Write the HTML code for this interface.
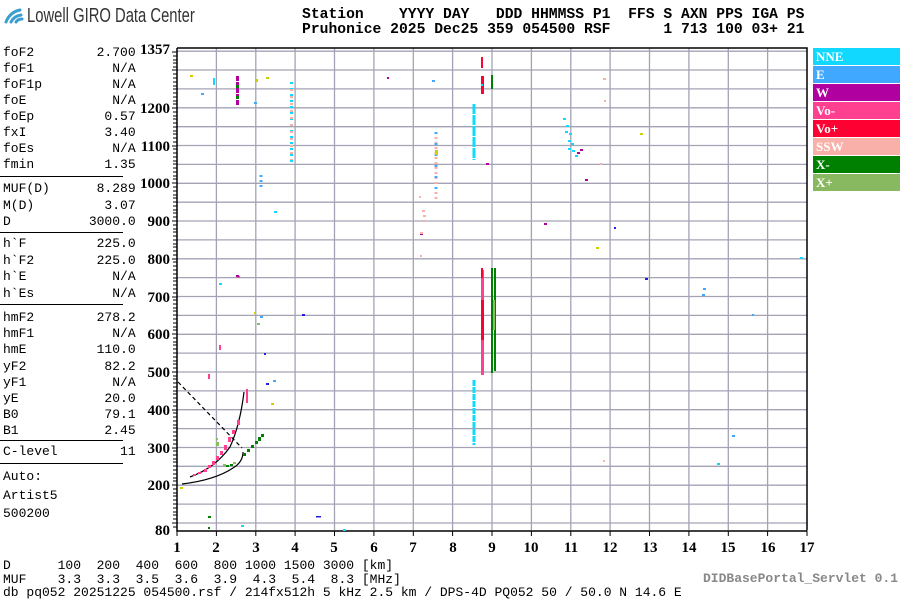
<!DOCTYPE html>
<html><head><meta charset="utf-8"><style>
body{margin:0;background:#fff;width:900px;height:600px;overflow:hidden;position:relative;font-family:"Liberation Mono",monospace}
.t{position:absolute;font-size:13px;white-space:pre;color:#000;line-height:13px}
.lg{position:absolute;left:813px;width:87px;height:17px;color:#fff;font:bold 13px "Liberation Serif",serif;line-height:17px;padding-left:3px;box-sizing:border-box}
</style></head><body>
<svg width="900" height="600" style="position:absolute;left:0;top:0">
<g stroke="#3a9fd0" stroke-width="3" fill="none" stroke-linecap="round">
<path d="M6 22 Q10 12 20 10"/><path d="M11 22 Q14 16 21 15"/><path d="M16 22 Q18 19 22 19"/></g>
<g stroke="#a3a3b5" stroke-width="1.3">
<path d="M177 523H807M177 504.1H807M177 485.2H807M177 466.3H807M177 447.5H807M177 428.6H807M177 409.7H807M177 390.9H807M177 372H807M177 353.1H807M177 334.3H807M177 315.4H807M177 296.5H807M177 277.6H807M177 258.8H807M177 239.9H807M177 221H807M177 202.2H807M177 183.3H807M177 164.4H807M177 145.5H807M177 126.7H807M177 107.8H807M177 88.9H807M177 70H807M177 51.2H807"/>
<path d="M216.4 48V530M255.8 48V530M295.1 48V530M334.5 48V530M373.9 48V530M413.3 48V530M452.6 48V530M492 48V530M531.4 48V530M570.8 48V530M610.1 48V530M649.5 48V530M688.9 48V530M728.3 48V530M767.6 48V530"/>
</g>
<g stroke="#000" stroke-width="1.5" fill="none">
<path d="M177 48H807V530.5M177 48V531H807"/>
</g>
<g stroke="#000" stroke-width="1">
<path d="M172 52H177M173 56H177M173 60H177M173 63H177M173 67H177M172 70H177M173 74H177M173 78H177M173 82H177M173 86H177M173 89H177M173 93H177M173 97H177M173 101H177M173 104H177M172 108H177M173 112H177M173 116H177M173 119H177M173 123H177M173 127H177M173 131H177M173 134H177M173 138H177M173 142H177M172 146H177M173 149H177M173 153H177M173 157H177M173 161H177M173 164H177M173 168H177M173 172H177M173 176H177M173 179H177M172 183H177M173 187H177M173 191H177M173 195H177M173 198H177M173 202H177M173 206H177M173 210H177M173 213H177M173 217H177M172 221H177M173 225H177M173 229H177M173 232H177M173 236H177M173 240H177M173 244H177M173 247H177M173 251H177M173 255H177M172 259H177M173 262H177M173 266H177M173 270H177M173 274H177M173 278H177M173 281H177M173 285H177M173 289H177M173 293H177M172 297H177M173 300H177M173 304H177M173 308H177M173 311H177M173 315H177M173 319H177M173 323H177M173 327H177M173 330H177M172 334H177M173 338H177M173 342H177M173 345H177M173 349H177M173 353H177M173 357H177M173 361H177M173 364H177M173 368H177M172 372H177M173 376H177M173 379H177M173 383H177M173 387H177M173 391H177M173 394H177M173 398H177M173 402H177M173 406H177M172 410H177M173 413H177M173 417H177M173 421H177M173 425H177M173 428H177M173 432H177M173 436H177M173 440H177M173 444H177M172 448H177M173 451H177M173 455H177M173 459H177M173 462H177M173 466H177M173 470H177M173 474H177M173 478H177M173 481H177M172 485H177M173 489H177M173 493H177M173 496H177M173 500H177M173 504H177M173 508H177M173 512H177M173 515H177M173 519H177M172 523H177M173 527H177"/>
<path d="M177 531V536M216.4 531V536M255.8 531V536M295.1 531V536M334.5 531V536M373.9 531V536M413.3 531V536M452.6 531V536M492 531V536M531.4 531V536M570.8 531V536M610.1 531V536M649.5 531V536M688.9 531V536M728.3 531V536M767.6 531V536M807 531V536"/>
</g>
<g font-family="Liberation Serif,serif" font-weight="bold" font-size="15" text-anchor="end">
<text x="170" y="54">1357</text><text x="170" y="113">1200</text><text x="170" y="151">1100</text><text x="170" y="188">1000</text><text x="170" y="226">900</text><text x="170" y="264">800</text><text x="170" y="302">700</text><text x="170" y="339">600</text><text x="170" y="377">500</text><text x="170" y="415">400</text><text x="170" y="453">300</text><text x="170" y="490">200</text><text x="170" y="535">80</text>
</g>
<g font-family="Liberation Serif,serif" font-weight="bold" font-size="15" text-anchor="middle">
<text x="177" y="552">1</text><text x="216" y="552">2</text><text x="256" y="552">3</text><text x="295" y="552">4</text><text x="334" y="552">5</text><text x="374" y="552">6</text><text x="413" y="552">7</text><text x="453" y="552">8</text><text x="492" y="552">9</text><text x="531" y="552">10</text><text x="571" y="552">11</text><text x="610" y="552">12</text><text x="650" y="552">13</text><text x="689" y="552">14</text><text x="728" y="552">15</text><text x="768" y="552">16</text><text x="807" y="552">17</text>
</g>
<g fill="none" stroke="#000" stroke-width="1.2">
<path d="M182 484 Q215 480 233 468 Q243 462 243 452"/>
<path d="M190 477 Q215 468 230 447 Q240 425 244 392"/>
<path d="M178 382 L242 448" stroke-dasharray="4,3"/>
</g>
<!-- dotted vertical traces -->
<g fill="none" stroke-width="3">
<path d="M291.5 82V165" stroke="#10d8ff" stroke-dasharray="2,4"/>
<path d="M291.5 85V160" stroke="#f8b0a8" stroke-dasharray="2,5" stroke-dashoffset="3"/>
<path d="M436 132V200" stroke="#f8b0a8" stroke-dasharray="2,3"/>
<path d="M436 132V190" stroke="#40a8ff" stroke-dasharray="2,9"/>
<path d="M261 175V190" stroke="#40a8ff" stroke-dasharray="2,3"/>
<path d="M474 380V445" stroke="#10d8ff" stroke-dasharray="6,1"/>
<path d="M474 104V160" stroke="#10d8ff" stroke-dasharray="10,1"/>
<path d="M237.5 76V105" stroke="#b000a0" stroke-dasharray="5,1"/>
</g>
<g fill="#ff4090">
<rect x="193" y="474" width="3" height="2"/><rect x="198" y="472" width="3" height="2"/><rect x="204" y="469" width="3" height="3"/><rect x="208" y="465" width="3" height="3"/><rect x="212" y="461" width="3" height="4"/><rect x="216" y="456" width="3" height="4"/><rect x="220" y="451" width="3" height="4"/><rect x="224" y="445" width="3" height="5"/><rect x="228" y="437" width="3" height="5"/><rect x="232" y="430" width="3" height="4"/><rect x="237" y="420" width="3" height="5"/><rect x="246" y="389" width="2" height="14"/>
<rect x="208" y="374" width="2" height="5"/><rect x="219" y="345" width="2" height="5"/><rect x="481" y="270" width="3" height="105"/><rect x="237" y="276" width="3" height="2"/>
</g>
<g fill="#ff0033"><rect x="481" y="57" width="2" height="11"/><rect x="481" y="76" width="3" height="18"/><rect x="481" y="300" width="3" height="40"/><rect x="481" y="268" width="2" height="10"/></g>
<g fill="#008000"><rect x="243" y="453" width="3" height="3"/><rect x="247" y="449" width="3" height="3"/><rect x="251" y="445" width="3" height="3"/><rect x="255" y="441" width="3" height="3"/><rect x="258" y="437" width="3" height="4"/><rect x="261" y="434" width="3" height="3"/><rect x="226" y="465" width="3" height="2"/><rect x="230" y="464" width="3" height="2"/><rect x="208" y="516" width="3" height="2"/><rect x="208" y="527" width="2" height="2"/><rect x="491" y="75" width="2" height="14"/><rect x="491" y="268" width="2" height="105"/><rect x="494" y="268" width="2" height="103"/><rect x="236" y="85" width="3" height="3"/><rect x="236" y="96" width="3" height="3"/></g>
<g fill="#88c060"><rect x="216" y="442" width="3" height="4"/><rect x="216" y="438" width="2" height="2"/><rect x="233" y="462" width="3" height="2"/><rect x="223" y="464" width="3" height="2"/><rect x="257" y="323" width="3" height="2"/><rect x="493" y="300" width="2" height="30"/></g>
<g fill="#b000a0"><rect x="236" y="275" width="3" height="2"/><rect x="420" y="233" width="3" height="2"/><rect x="486" y="163" width="3" height="2"/><rect x="544" y="223" width="3" height="2"/><rect x="580" y="149" width="3" height="2"/><rect x="577" y="152" width="3" height="2"/><rect x="585" y="179" width="3" height="2"/><rect x="387" y="77" width="2" height="2"/></g>
<g fill="#10d8ff"><rect x="213" y="78" width="2" height="7"/><rect x="563" y="118" width="3" height="2"/><rect x="566" y="125" width="3" height="2"/><rect x="565" y="131" width="3" height="2"/><rect x="569" y="133" width="3" height="2"/><rect x="568" y="140" width="3" height="2"/><rect x="571" y="143" width="3" height="2"/><rect x="568" y="148" width="3" height="2"/><rect x="572" y="150" width="3" height="2"/><rect x="575" y="155" width="3" height="2"/><rect x="241" y="525" width="3" height="2"/><rect x="219" y="283" width="3" height="2"/><rect x="274" y="211" width="3" height="2"/><rect x="800" y="257" width="3" height="2"/><rect x="717" y="463" width="3" height="2"/><rect x="343" y="529" width="3" height="2"/><rect x="481" y="84" width="2" height="2"/></g>
<g fill="#40a8ff"><rect x="201" y="93" width="3" height="2"/><rect x="254" y="102" width="3" height="2"/><rect x="432" y="80" width="3" height="2"/><rect x="260" y="316" width="3" height="2"/><rect x="703" y="288" width="3" height="2"/><rect x="702" y="294" width="3" height="2"/><rect x="752" y="314" width="2" height="2"/><rect x="732" y="435" width="3" height="2"/><rect x="273" y="380" width="3" height="2"/></g>
<g fill="#f8b0a8"><rect x="419" y="196" width="2" height="2"/><rect x="422" y="210" width="3" height="2"/><rect x="423" y="215" width="3" height="2"/><rect x="420" y="232" width="3" height="2"/><rect x="423" y="220" width="2" height="2"/><rect x="603" y="78" width="3" height="2"/><rect x="604" y="100" width="2" height="2"/><rect x="600" y="163" width="2" height="2"/><rect x="420" y="255" width="2" height="2"/><rect x="603" y="460" width="2" height="2"/></g>
<g fill="#d0d000"><rect x="190" y="75" width="3" height="2"/><rect x="266" y="77" width="3" height="2"/><rect x="180" y="487" width="3" height="2"/><rect x="271" y="403" width="3" height="2"/><rect x="435" y="150" width="3" height="5"/><rect x="640" y="133" width="3" height="2"/><rect x="596" y="247" width="3" height="2"/><rect x="256" y="79" width="2" height="3"/><rect x="254" y="312" width="2" height="2"/></g>
<g fill="#2020e0"><rect x="266" y="383" width="3" height="2"/><rect x="302" y="314" width="3" height="2"/><rect x="316" y="516" width="5" height="1.5"/><rect x="645" y="278" width="3" height="2"/><rect x="264" y="353" width="2" height="2"/><rect x="614" y="227" width="2" height="2"/></g>
</svg>
<div class="t" style="left:27px;top:5px;font:20px 'Liberation Sans',sans-serif;color:#333;transform:scaleX(0.74);transform-origin:left">Lowell GIRO Data Center</div>
<div class="t" style="left:302px;top:8px;font-weight:bold;font-size:14.7px;line-height:15px">Station    YYYY DAY   DDD HHMMSS P1  FFS S AXN PPS IGA PS
Pruhonice 2025 Dec25 359 054500 RSF      1 713 100 03+ 21</div>
<div class="t" style="left:3px;top:45px;line-height:16px">foF2        2.700
foF1          N/A
foF1p         N/A
foE           N/A
foEp         0.57
fxI          3.40
foEs          N/A
fmin         1.35</div>
<div style="position:absolute;left:0;top:176px;width:123px;border-top:1.5px solid #000"></div>
<div class="t" style="left:3px;top:181px;line-height:16.5px">MUF(D)      8.289
M(D)         3.07
D          3000.0</div>
<div style="position:absolute;left:0;top:232px;width:123px;border-top:1.5px solid #000"></div>
<div class="t" style="left:3px;top:236px;line-height:16.5px">h`F         225.0
h`F2        225.0
h`E           N/A
h`Es          N/A</div>
<div style="position:absolute;left:0;top:304px;width:123px;border-top:1.5px solid #000"></div>
<div class="t" style="left:3px;top:310px;line-height:16.2px">hmF2        278.2
hmF1          N/A
hmE         110.0
yF2          82.2
yF1           N/A
yE           20.0
B0           79.1
B1           2.45</div>
<div style="position:absolute;left:0;top:440px;width:123px;border-top:1.5px solid #000"></div>
<div class="t" style="left:3px;top:445px">C-level        11</div>
<div style="position:absolute;left:0;top:463px;width:123px;border-top:1.5px solid #000"></div>
<div class="t" style="left:3px;top:468px;line-height:18.5px">Auto:
Artist5
500200</div>
<div class="t" style="left:3px;top:559px;line-height:13.5px">D      100  200  400  600  800 1000 1500 3000 [km]
MUF    3.3  3.3  3.5  3.6  3.9  4.3  5.4  8.3 [MHz]
db pq052 20251225 054500.rsf / 214fx512h 5 kHz 2.5 km / DPS-4D PQ052 50 / 50.0 N 14.6 E</div>
<div class="t" style="left:703px;top:572px;font-weight:bold;color:#888;font-size:13px">DIDBasePortal_Servlet 0.1</div>
<div class="lg" style="top:48px;background:#10d8ff">NNE</div>
<div class="lg" style="top:66px;background:#40a8ff">E</div>
<div class="lg" style="top:84px;background:#b000a0">W</div>
<div class="lg" style="top:102px;background:#ff4090">Vo-</div>
<div class="lg" style="top:120px;background:#ff0033">Vo+</div>
<div class="lg" style="top:138px;background:#f8b0a8">SSW</div>
<div class="lg" style="top:156px;background:#008000">X-</div>
<div class="lg" style="top:174px;background:#88b860">X+</div>
</body></html>
